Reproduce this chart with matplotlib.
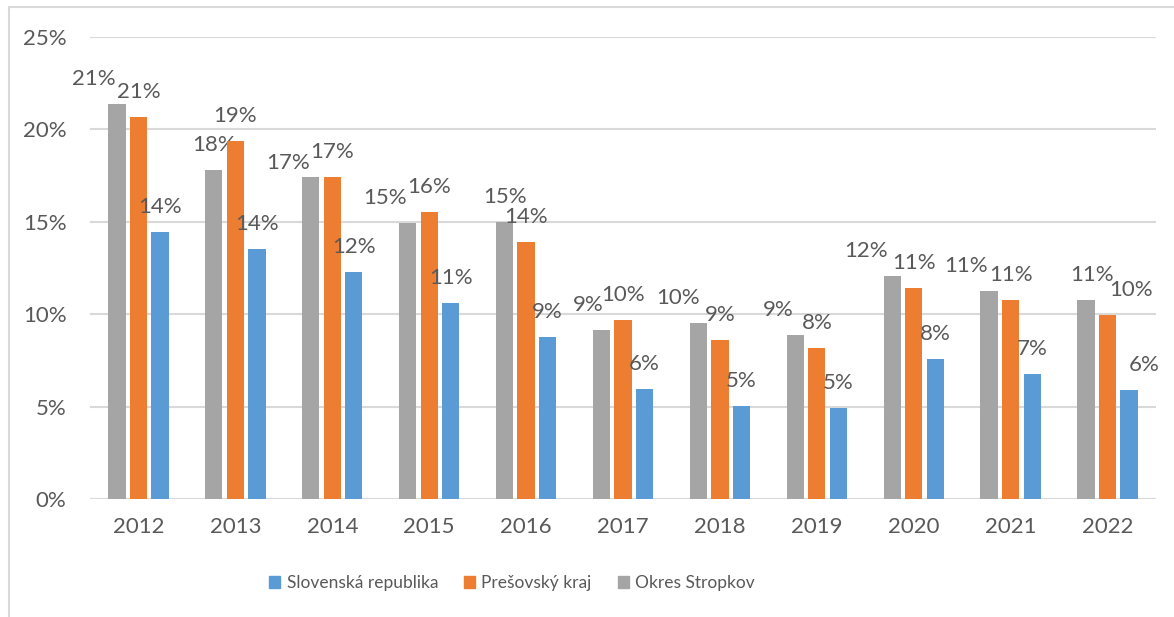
import numpy as np
import matplotlib
matplotlib.use("Agg")
import matplotlib.pyplot as plt
from matplotlib.patches import Patch, Rectangle
from matplotlib.ticker import FuncFormatter

years = ["2012", "2013", "2014", "2015", "2016", "2017", "2018", "2019", "2020", "2021", "2022"]
okres = [21.37, 17.80, 17.40, 14.93, 15.01, 9.15, 9.51, 8.86, 12.06, 11.26, 10.77]
presov = [20.66, 19.35, 17.43, 15.52, 13.90, 9.67, 8.59, 8.19, 11.41, 10.77, 9.96]
slovensko = [14.44, 13.52, 12.29, 10.63, 8.75, 5.94, 5.03, 4.91, 7.56, 6.77, 5.90]

# label nudges in pixels (dx, dy) - Excel moved some labels to avoid overlaps
okres_nudge = [(-23, 0), (0, 0), (-23, -11), (-23, 0), (0, 0), (-13, 0),
               (-20, 0), (-17, 0), (-26, 0), (-23, 0), (6, 0)]
presov_nudge = [(0, 0)] * 10 + [(23, 0)]
slovensko_nudge = [(0, 0)] * 10 + [(15, 0)]

GRAY = "#A5A5A5"
ORANGE = "#ED7D31"
BLUE = "#5B9BD5"
TXT = "#595959"
GRID = "#D9D9D9"

plt.rcParams["font.family"] = ["Lato", "DejaVu Sans"]
FS = 16

fig = plt.figure(figsize=(11.74, 6.17), dpi=100)
ax = fig.add_axes([90 / 1174, 1 - 499 / 617, (1156 - 90) / 1174, (499 - 37) / 617])

# chart area border
fig.patches.append(Rectangle((9 / 1174, -0.1), 1.2, 1 - 7 / 617 + 0.1,
                             transform=fig.transFigure, fill=False,
                             edgecolor=GRID, lw=1.5))

x = np.arange(len(years))
step = 0.222
w = 0.178
series = [(okres, GRAY, okres_nudge, -step),
          (presov, ORANGE, presov_nudge, 0),
          (slovensko, BLUE, slovensko_nudge, step)]

for vals, col, nudge, off in series:
    v = np.array(vals) / 100
    ax.bar(x + off, v, width=w, color=col, zorder=3)
    for xi, vi, (dx, dy) in zip(x + off, v, nudge):
        ax.annotate(f"{vi * 100:.0f}%", xy=(xi, vi), xytext=(dx, 25 + dy),
                    textcoords="offset pixels", ha="center", va="center",
                    color=TXT, fontsize=FS)

ax.set_xlim(-0.5, len(years) - 0.5)
ax.set_ylim(0, 0.25)
ax.set_yticks(np.arange(0, 0.26, 0.05))
ax.yaxis.set_major_formatter(FuncFormatter(lambda v, p: f"{v * 100:.0f}%"))
ax.set_xticks(x)
ax.set_xticklabels(years)
ax.grid(axis="y", color=GRID, lw=1.5, zorder=0)
for s in ax.spines.values():
    s.set_visible(False)
ax.tick_params(length=0, colors=TXT, labelsize=FS)
ax.tick_params(axis="y", pad=17)
ax.tick_params(axis="x", pad=13)
ax.axhline(0, color=GRID, lw=1.5, zorder=2)

handles = [Patch(color=BLUE, label="Slovenská republika"),
           Patch(color=ORANGE, label="Prešovský kraj"),
           Patch(color=GRAY, label="Okres Stropkov")]
leg = fig.legend(handles=handles, loc="center", bbox_to_anchor=(512 / 1174, 1 - 583 / 617),
                 ncol=3, frameon=False, handlelength=0.65, handleheight=0.65,
                 handletextpad=0.35, columnspacing=1.5, fontsize=12.5)
for t in leg.get_texts():
    t.set_color(TXT)

fig.savefig("out.png", dpi=100)
